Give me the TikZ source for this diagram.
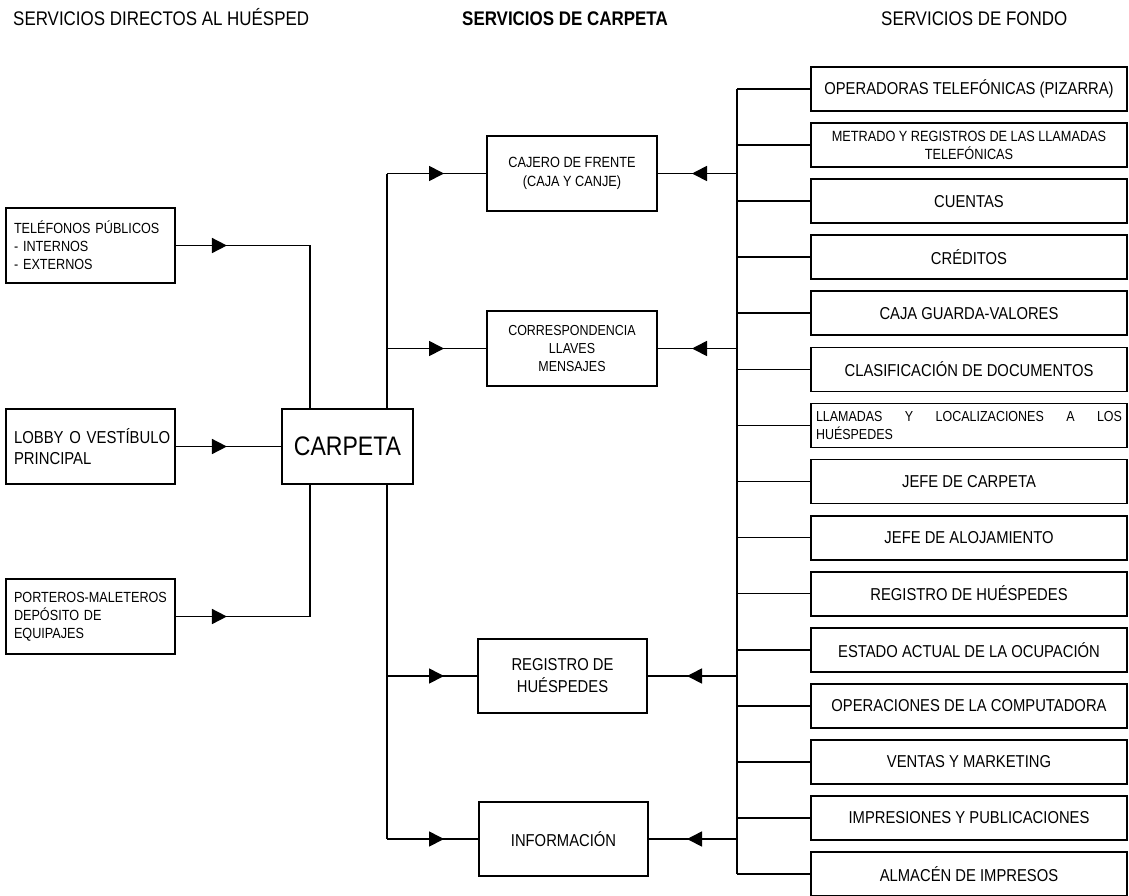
\documentclass[tikz,border=0pt]{standalone}
\usepackage{fontspec}
\setmainfont{Liberation Sans}[FakeStretch=0.86]
\usetikzlibrary{arrows.meta,decorations.markings}
\hyphenpenalty=10000
\exhyphenpenalty=10000
\newcommand\fsz[2]{\fontsize{#1pt}{#2pt}\selectfont}
\tikzset{
  every node/.style={inner sep=0pt},
  box/.style={draw, line width=1.8pt, fill=white},
  lbox/.style={box, text width=153pt, inner xsep=8pt, align=left, minimum height=75pt},
  mbox/.style={box, minimum width=170pt, minimum height=75pt, align=center},
  rbox/.style={box, minimum width=316pt, minimum height=44pt, align=center, font=\fsz{17.2}{20}},
  wire/.style={line width=1.7pt},
  tipat/.style={postaction={decorate}, decoration={markings,
      mark=at position #1 with {\arrow{Triangle[length=15pt,width=15pt]}}}},
  head/.style={anchor=base west, font=\fsz{19.7}{22}}
}
\begin{document}
\begin{tikzpicture}[x=1pt, y=-1pt]
\useasboundingbox (0,0) rectangle (1129,895);

% column headings
\node[head] (h1) at (13,25) {SERVICIOS DIRECTOS AL HUÉSPED};
\node[head] (h2) at (462,25) {\bfseries SERVICIOS DE CARPETA};
\node[head] (h3) at (881,25) {SERVICIOS DE FONDO};

% guest-facing services
\node[lbox, font=\fsz{14.7}{18}] (tel) at (90.5,245.5) {TELÉFONOS PÚBLICOS\\- INTERNOS\\- EXTERNOS};
\node[lbox, font=\fsz{17.3}{21.7}] (lobby) at (90.5,446.5) {\mbox{LOBBY O VESTÍBULO}\\PRINCIPAL};
\node[lbox, font=\fsz{14.7}{18}] (port) at (90.5,616.5) {\mbox{PORTEROS-MALETEROS}\\DEPÓSITO DE\\EQUIPAJES};

% front desk
\node[box, minimum width=131pt, minimum height=75pt, font=\fsz{26.8}{30}] (carpeta) at (347.5,446.5) {CARPETA};

\node[mbox, font=\fsz{14.8}{19}] (cajero) at (572,173.5) {CAJERO DE FRENTE\\(CAJA Y CANJE)};
\node[mbox, font=\fsz{14.5}{18}] (corr) at (572,348.5) {CORRESPONDENCIA\\LLAVES\\MENSAJES};
\node[mbox, minimum width=169pt, minimum height=74pt, font=\fsz{17.2}{22}] (reg) at (562.5,676) {REGISTRO DE\\HUÉSPEDES};
\node[mbox, minimum width=169pt, minimum height=74pt, font=\fsz{17.2}{22}] (info) at (563.5,839) {INFORMACIÓN};

% back-office services
\node[rbox] (rb0) at (969,89) {OPERADORAS TELEFÓNICAS (PIZARRA)};
\node[rbox, font=\fsz{14.8}{17.7}] (rb1) at (969,145.1) {METRADO Y REGISTROS DE LAS LLAMADAS\\TELEFÓNICAS};
\node[rbox] (rb2) at (969,201.1) {CUENTAS};
\node[rbox] (rb3) at (969,257.2) {CRÉDITOS};
\node[rbox] (rb4) at (969,313.3) {CAJA GUARDA-VALORES};
\node[rbox] (rb5) at (969,369.4) {CLASIFICACIÓN DE DOCUMENTOS};
\node[rbox, text width=306pt, align=justify, font=\fsz{14.5}{17.7}] (rb6) at (969,425.4) {LLAMADAS Y LOCALIZACIONES A LOS\linebreak HUÉSPEDES};
\node[rbox] (rb7) at (969,481.5) {JEFE DE CARPETA};
\node[rbox] (rb8) at (969,537.6) {JEFE DE ALOJAMIENTO};
\node[rbox] (rb9) at (969,593.6) {REGISTRO DE HUÉSPEDES};
\node[rbox] (rb10) at (969,649.7) {ESTADO ACTUAL DE LA OCUPACIÓN};
\node[rbox] (rb11) at (969,705.8) {OPERACIONES DE LA COMPUTADORA};
\node[rbox] (rb12) at (969,761.8) {VENTAS Y MARKETING};
\node[rbox] (rb13) at (969,817.9) {IMPRESIONES Y PUBLICACIONES};
\node[rbox] (rb14) at (969,874) {ALMACÉN DE IMPRESOS};

% bus lines
\coordinate (busA) at (310,0);
\coordinate (busB) at (387,0);
\coordinate (busC) at (737,0);

% guest services into CARPETA
\draw[wire, tipat=51pt] (tel.east) -| (carpeta.north -| busA);
\draw[wire, tipat=51pt] (lobby.east) -- (carpeta.west);
\draw[wire, tipat=51pt] (port.east) -| (carpeta.south -| busA);

% CARPETA out to the front desk services
\draw[wire] (carpeta.north -| busB) -- (cajero.west -| busB);
\draw[wire] (carpeta.south -| busB) -- (info.west -| busB);
\foreach \n in {cajero,corr,reg,info}
  \draw[wire, tipat=57pt] (\n.west -| busB) -- (\n.west);

% back-office bus
\draw[wire] (rb0.west -| busC) -- (rb14.west -| busC);
\foreach \i in {0,...,14}
  \draw[wire] (rb\i.west -| busC) -- (rb\i.west);
\draw[wire, tipat=45pt] (cajero.east -| busC) -- (cajero.east);
\draw[wire, tipat=45pt] (corr.east -| busC) -- (corr.east);
\draw[wire, tipat=50pt] (reg.east -| busC) -- (reg.east);
\draw[wire, tipat=50pt] (info.east -| busC) -- (info.east);
\end{tikzpicture}
\end{document}
